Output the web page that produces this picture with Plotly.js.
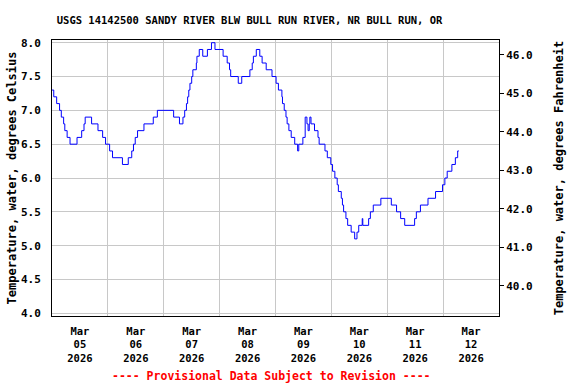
<!DOCTYPE html>
<html>
<head>
<meta charset="utf-8">
<script src="https://cdn.plot.ly/plotly-3.0.1.min.js"></script>
<style>html,body{margin:0;padding:0;background:#fff;}#chart{width:576px;height:384px;}</style>
</head>
<body>
<div id="chart"></div>
<script>
// Times where the reading changed (15-min data, step line) and the water temperature in degrees Celsius
const times = [
"2026-03-05 00:00","2026-03-05 00:45","2026-03-05 02:00","2026-03-05 03:15","2026-03-05 04:00","2026-03-05 05:00","2026-03-05 05:30","2026-03-05 06:30","2026-03-05 07:45","2026-03-05 10:45",
"2026-03-05 12:45","2026-03-05 13:45","2026-03-05 14:15","2026-03-05 17:00","2026-03-05 19:45","2026-03-05 21:45","2026-03-05 23:00","2026-03-06 00:45","2026-03-06 02:00","2026-03-06 06:15",
"2026-03-06 08:45","2026-03-06 10:15","2026-03-06 11:00","2026-03-06 11:45","2026-03-06 12:45","2026-03-06 15:30","2026-03-06 19:30","2026-03-06 21:15","2026-03-07 04:15","2026-03-07 06:45",
"2026-03-07 08:15","2026-03-07 09:00","2026-03-07 09:45","2026-03-07 10:15","2026-03-07 10:45","2026-03-07 11:15","2026-03-07 12:00","2026-03-07 12:30","2026-03-07 14:00","2026-03-07 14:15",
"2026-03-07 15:15","2026-03-07 16:45","2026-03-07 18:45","2026-03-07 20:30","2026-03-07 22:00","2026-03-08 01:30","2026-03-08 03:15","2026-03-08 04:15","2026-03-08 04:45","2026-03-08 08:00",
"2026-03-08 09:30","2026-03-08 13:00","2026-03-08 14:00","2026-03-08 14:30","2026-03-08 15:45","2026-03-08 17:15","2026-03-08 18:15","2026-03-08 20:00","2026-03-08 22:30","2026-03-09 00:15",
"2026-03-09 01:15","2026-03-09 02:45","2026-03-09 03:00","2026-03-09 03:45","2026-03-09 04:30","2026-03-09 05:00","2026-03-09 05:45","2026-03-09 06:45","2026-03-09 08:15","2026-03-09 09:30",
"2026-03-09 10:00","2026-03-09 11:45","2026-03-09 12:45","2026-03-09 13:30","2026-03-09 14:00","2026-03-09 14:30","2026-03-09 14:45","2026-03-09 15:15","2026-03-09 16:45","2026-03-09 18:15",
"2026-03-09 18:45","2026-03-09 21:15","2026-03-09 22:15","2026-03-09 23:45","2026-03-10 00:30","2026-03-10 01:30","2026-03-10 02:30","2026-03-10 03:00","2026-03-10 04:15","2026-03-10 04:45",
"2026-03-10 05:15","2026-03-10 06:15","2026-03-10 07:00","2026-03-10 08:30","2026-03-10 10:00","2026-03-10 11:00","2026-03-10 11:45","2026-03-10 13:15","2026-03-10 13:30","2026-03-10 16:00",
"2026-03-10 16:45","2026-03-10 18:00","2026-03-10 21:15","2026-03-11 01:45","2026-03-11 04:00","2026-03-11 05:45","2026-03-11 07:30","2026-03-11 11:45","2026-03-11 12:30","2026-03-11 14:15",
"2026-03-11 17:30","2026-03-11 20:45","2026-03-11 23:45","2026-03-12 00:45","2026-03-12 01:45","2026-03-12 03:45","2026-03-12 05:15","2026-03-12 06:15","2026-03-12 06:45"
];
const tempC = [
7.3,7.2,7.1,7.0,6.9,6.8,6.7,6.6,6.5,6.6,
6.7,6.8,6.9,6.8,6.7,6.6,6.5,6.4,6.3,6.2,
6.3,6.4,6.5,6.6,6.7,6.8,6.9,7.0,6.9,6.8,
6.9,7.0,7.1,7.2,7.3,7.4,7.5,7.6,7.7,7.8,
7.9,7.8,7.9,8.0,7.9,7.8,7.7,7.6,7.5,7.4,
7.5,7.6,7.7,7.8,7.9,7.8,7.7,7.6,7.5,7.4,
7.3,7.2,7.1,7.0,6.9,6.8,6.7,6.6,6.5,6.4,
6.5,6.6,6.9,6.8,6.7,6.8,6.9,6.8,6.7,6.6,
6.5,6.4,6.3,6.2,6.1,6.0,5.9,5.8,5.7,5.6,
5.5,5.4,5.3,5.2,5.1,5.2,5.3,5.4,5.3,5.4,
5.5,5.6,5.7,5.6,5.5,5.4,5.3,5.4,5.5,5.6,
5.7,5.8,5.9,6.0,6.1,6.2,6.3,6.4,6.4
];

// Day labels (centred at noon of each day) and day boundaries (grid lines)
const dayLabelTimes = ["2026-03-05 12:00","2026-03-06 12:00","2026-03-07 12:00","2026-03-08 12:00","2026-03-09 12:00","2026-03-10 12:00","2026-03-11 12:00","2026-03-12 12:00"];
const dayLabels = ["Mar<br>05<br>2026","Mar<br>06<br>2026","Mar<br>07<br>2026","Mar<br>08<br>2026","Mar<br>09<br>2026","Mar<br>10<br>2026","Mar<br>11<br>2026","Mar<br>12<br>2026"];
const dayBounds = ["2026-03-06","2026-03-07","2026-03-08","2026-03-09","2026-03-10","2026-03-11","2026-03-12"];
const xRange = ["2026-03-05 00:00","2026-03-13 00:00"];
const celsiusRange = [3.96, 8.04];
const fahrenheitRange = [39.22, 46.38];

const titleText = "USGS 14142500 SANDY RIVER BLW BULL RUN RIVER, NR BULL RUN, OR";
const leftTitle = "Temperature, water, degrees Celsius";
const rightTitle = "Temperature, water, degrees Fahrenheit";
const footText = "---- Provisional Data Subject to Revision ----";

const FONT = "DejaVu Sans Mono, monospace";

const traces = [{
  x: times, y: tempC, type: "scatter", mode: "lines",
  line: {color: "#0000ff", width: 1, shape: "hv"},
  hoverinfo: "skip", showlegend: false
}, {
  x: [xRange[0]], y: [fahrenheitRange[0]], yaxis: "y2", type: "scatter", mode: "markers",
  marker: {opacity: 0}, hoverinfo: "skip", showlegend: false
}];

const layout = {
  width: 576, height: 384,
  margin: {l: 52, r: 77, t: 40, b: 68, pad: 0},
  paper_bgcolor: "#ffffff", plot_bgcolor: "#ffffff",
  font: {family: FONT, size: 11, color: "#000", weight: "bold"},
  title: {text: titleText, x: 0.442, xref: "paper", xanchor: "center", y: 0.948, yanchor: "middle",
          font: {family: FONT, size: 10.5, color: "#000", weight: "bold"}},
  xaxis: {
    type: "date", range: xRange, fixedrange: true,
    tickmode: "array", tickvals: dayLabelTimes, ticktext: dayLabels,
    ticks: "", showgrid: false, ticklabelstandoff: 5,
    minor: {tickmode: "array", tickvals: dayBounds, showgrid: true, gridcolor: "#c8c8c8", gridwidth: 1, ticks: ""},
    showline: true, linecolor: "#000", linewidth: 1, mirror: true, zeroline: false,
    tickfont: {family: FONT, size: 10.5, color: "#000", weight: "bold"}
  },
  yaxis: {
    range: celsiusRange, tickmode: "linear", tick0: 4, dtick: 0.5, tickformat: ".1f",
    showgrid: true, gridcolor: "#c8c8c8", gridwidth: 1, zeroline: false,
    showline: true, linecolor: "#000", linewidth: 1, ticks: "", ticklabelstandoff: 8,
    tickfont: {family: FONT, size: 11, color: "#000", weight: "bold"},
    title: {text: leftTitle, standoff: 1, font: {family: FONT, size: 12, color: "#000", weight: "bold"}}
  },
  yaxis2: {
    overlaying: "y", side: "right", range: fahrenheitRange, tickmode: "linear", tick0: 40, dtick: 1,
    tickformat: ".1f", showgrid: false, zeroline: false,
    showline: true, linecolor: "#000", linewidth: 1, ticks: "outside", ticklen: 4, tickcolor: "#000",
    tickfont: {family: FONT, size: 11, color: "#000", weight: "bold"},
    title: {text: rightTitle, standoff: 22, font: {family: FONT, size: 12, color: "#000", weight: "bold"}}
  },
  annotations: [{
    text: footText, xref: "paper", yref: "paper", x: 0.49, y: -0.216, xanchor: "center", yanchor: "middle",
    showarrow: false, font: {family: FONT, size: 11.5, color: "#ff0000", weight: "bold"}
  }]
};

Plotly.newPlot("chart", traces, layout, {staticPlot: true, displayModeBar: false});
</script>
</body>
</html>
